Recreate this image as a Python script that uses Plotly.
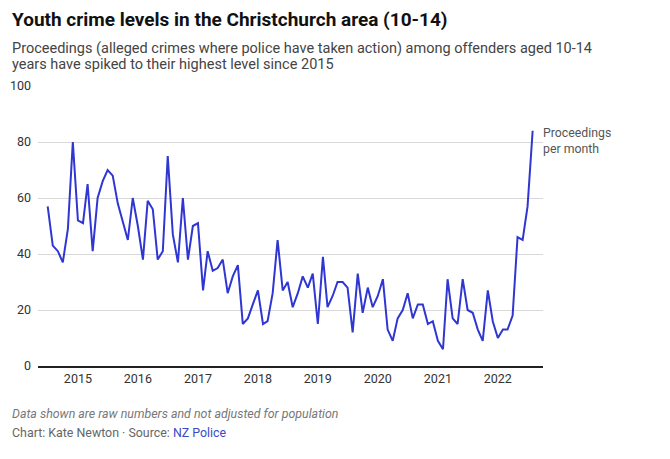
import plotly.graph_objects as go
import pandas as pd

# Monthly proceedings, Jul 2014 - Aug 2022
months = pd.date_range("2014-07-01", "2022-08-01", freq="MS")
proceedings = [
    57, 43, 41, 37, 49, 80, 52, 51, 65, 41, 60, 66,
    70, 68, 58, 52, 45, 60, 50, 38, 59, 56, 38, 41,
    75, 47, 37, 60, 38, 50, 51, 27, 41, 34, 35, 38,
    26, 32, 36, 15, 17, 22, 27, 15, 16, 26, 45, 27,
    30, 21, 26, 32, 28, 33, 15, 39, 21, 25, 30, 30,
    28, 12, 33, 19, 28, 21, 25, 31, 13, 9, 17, 20,
    26, 17, 22, 22, 15, 16, 9, 6, 31, 17, 15, 31,
    20, 19, 13, 9, 27, 16, 10, 13, 13, 18, 46, 45,
    57, 84,
]
year_ticks = ["2015-01-01", "2016-01-01", "2017-01-01", "2018-01-01",
              "2019-01-01", "2020-01-01", "2021-01-01", "2022-01-01"]
year_labels = ["2015", "2016", "2017", "2018", "2019", "2020", "2021", "2022"]
y_ticks = [0, 20, 40, 60, 80, 100]

title = "Youth crime levels in the Christchurch area (10-14)"
subtitle_1 = "Proceedings (alleged crimes where police have taken action) among offenders aged 10-14"
subtitle_2 = "years have spiked to their highest level since 2015"
note = "Data shown are raw numbers and not adjusted for population"
credit = "Chart: Kate Newton · Source: <span style='color:#3a4bc4'>NZ Police</span>"
series_label = "Proceedings<br>per month"

W, H = 670, 459
L, R, T, B = 38, 543, 86, 366
def px(x):
    return (x - L) / (R - L)
def py(y):
    return (B - y) / (B - T)

SANS = "Roboto, Liberation Sans, sans-serif"

fig = go.Figure()
fig.add_trace(go.Scatter(
    x=months, y=proceedings, mode="lines",
    line=dict(color="#2f36d2", width=2),
    hoverinfo="x+y", showlegend=False,
))

fig.update_layout(
    width=W, height=H,
    margin=dict(l=L, r=W - R, t=T, b=H - B),
    paper_bgcolor="white", plot_bgcolor="white",
    xaxis=dict(
        range=["2014-05-03", "2022-10-03"],
        tickvals=year_ticks, ticktext=year_labels,
        showgrid=False, zeroline=False, automargin=False,
        showline=True, linecolor="#222", linewidth=1.5,
        ticks="", tickfont=dict(family=SANS, size=12.5, color="#333"),
    ),
    yaxis=dict(
        range=[0, 100], tickvals=y_ticks,
        showgrid=True, gridcolor="#d9d9d9", gridwidth=1,
        zeroline=False, showline=False, ticks="", automargin=False,
        tickfont=dict(family=SANS, size=12.5, color="#333"),
        ticklabelstandoff=6,
    ),
)

annos = [
    dict(text="<b>" + title + "</b>", x=px(10), y=py(20), xanchor="left", yanchor="middle",
         font=dict(family=SANS, size=19, color="#111")),
    dict(text=subtitle_1, x=px(10), y=py(48.5), xanchor="left", yanchor="middle",
         font=dict(family=SANS, size=14.5, color="#444")),
    dict(text=subtitle_2, x=px(10), y=py(64), xanchor="left", yanchor="middle",
         font=dict(family=SANS, size=14.5, color="#444")),
    dict(text="<i>" + note + "</i>", x=px(10), y=py(413), xanchor="left", yanchor="middle",
         font=dict(family=SANS, size=12.4, color="#777")),
    dict(text=credit, x=px(10), y=py(432), xanchor="left", yanchor="middle",
         font=dict(family=SANS, size=12.4, color="#666")),
    dict(text=series_label, x=px(541), y=py(141), xanchor="left", yanchor="middle", align="left",
         font=dict(family=SANS, size=12.3, color="#555")),
]
for a in annos:
    a.update(xref="paper", yref="paper", showarrow=False)
fig.update_layout(annotations=annos)

fig.write_html("out.html", config={"displayModeBar": False},
               post_script="document.body.style.margin='0px';")
